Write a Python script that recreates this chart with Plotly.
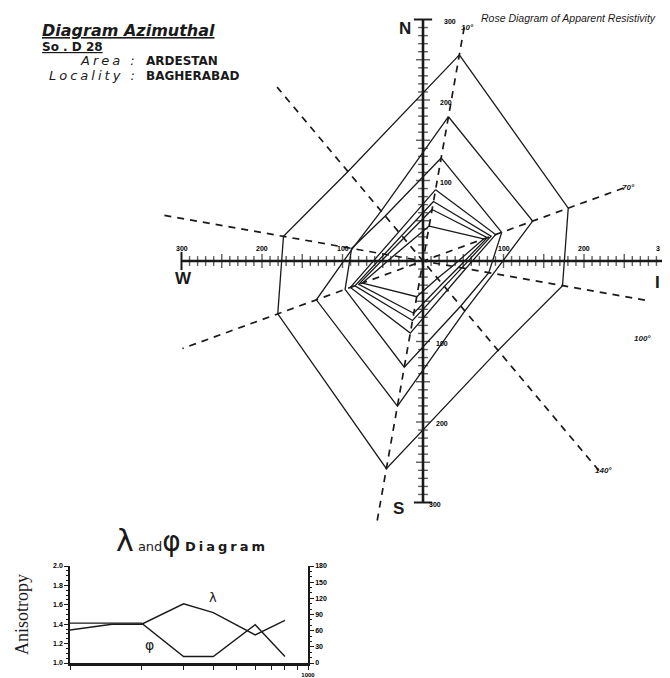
import numpy as np
import plotly.graph_objects as go

# ---------------- Rose diagram data (apparent resistivity, ohm.m) ----------------
azimuths = [10, 70, 100, 140, 190, 250, 280, 320]          # degrees from North, clockwise
ring_1 = [260, 192, 176, 145, 262, 192, 176, 145]
ring_2 = [182, 145, 89, 81, 183, 141, 89, 81]
ring_3 = [130, 104, 83, 73, 134, 103, 90, 73]
ring_4 = [90, 96, 54, 47, 91, 96, 54, 47]
ring_5 = [75, 90, 49, 41, 75, 90, 49, 41]
ring_6 = [65, 85, 45, 37, 66, 85, 45, 37]
ring_7 = [44, 80, 37, 28, 45, 80, 37, 28]
rings = [ring_1, ring_2, ring_3, ring_4, ring_5, ring_6, ring_7]

# measuring directions (dashed) and how far each is drawn on both sides
profile_azimuths = [10, 70, 100, 140]
profile_len_front = [295, 265, 280, 340]
profile_len_back = [330, 318, 329, 282]
profile_labels = ["10°", "70°", "100°", "140°"]

scale_ticks = list(range(10, 300, 10))
scale_labels = [100, 200, 300]

# ---------------- lambda / phi diagram data ----------------
ab2 = [100, 150, 200, 300, 400, 600, 800]
lam = [1.34, 1.40, 1.40, 1.61, 1.52, 1.29, 1.44]
phi = [74, 74, 74, 12, 12, 71, 12]

INK = "#1a1a1a"
OFF = 8                      # default page (body) margin of the html page
W, H = 670 - OFF, 678 - OFF  # figure size so that it exactly fills the window


def polar_xy(r, az):
    r = np.asarray(r, float)
    a = np.deg2rad(np.asarray(az, float))
    return r * np.sin(a), r * np.cos(a)


def px_x(px):
    return (px - OFF) / W


def px_y(py):
    return 1 - (py - OFF) / H


fig = go.Figure()

# dashed measuring directions
for az, lf, lb in zip(profile_azimuths, profile_len_front, profile_len_back):
    x, y = polar_xy([lf, 0, lb], [az, az, az + 180])
    fig.add_trace(go.Scatter(x=x, y=y, mode="lines", xaxis="x", yaxis="y",
                             line=dict(color=INK, width=1.7, dash="7px,6px"),
                             hoverinfo="skip", showlegend=False))

# resistivity polygons
for i, ring in enumerate(rings):
    x, y = polar_xy(ring + ring[:1], azimuths + azimuths[:1])
    fig.add_trace(go.Scatter(x=x, y=y, mode="lines", xaxis="x", yaxis="y",
                             line=dict(color=INK, width=1.3),
                             name=f"ring {i+1}", showlegend=False))

# N-S and E-W scale axes
for a1, a2 in [(0, 180), (90, 270)]:
    x, y = polar_xy([300, 0, 300], [a1, a1, a2])
    fig.add_trace(go.Scatter(x=x, y=y, mode="lines", xaxis="x", yaxis="y",
                             line=dict(color=INK, width=2.6), hoverinfo="skip", showlegend=False))

t = np.array(scale_ticks, float)
tsize = np.where(t % 50 == 0, 10, 7)
for az, sym in [(0, "line-ew"), (180, "line-ew"), (90, "line-ns"), (270, "line-ns")]:
    x, y = polar_xy(t, np.full(len(t), az))
    fig.add_trace(go.Scatter(x=x, y=y, mode="markers", xaxis="x", yaxis="y",
                             marker=dict(symbol=sym, size=tsize, line=dict(color=INK, width=1.4)),
                             hoverinfo="skip", showlegend=False))
    x, y = polar_xy([300], [az])
    fig.add_trace(go.Scatter(x=x, y=y, mode="markers", xaxis="x", yaxis="y",
                             marker=dict(symbol=sym, size=13, line=dict(color=INK, width=2)),
                             hoverinfo="skip", showlegend=False))

# ---------------- lambda / phi traces ----------------
fig.add_trace(go.Scatter(x=ab2, y=lam, mode="lines", xaxis="x2", yaxis="y2",
                         line=dict(color=INK, width=1.4), name="λ", showlegend=False))
fig.add_trace(go.Scatter(x=ab2, y=phi, mode="lines", xaxis="x2", yaxis="y3",
                         line=dict(color=INK, width=1.4), name="φ", showlegend=False))

# ---------------- annotations ----------------
ann = []
hdr = "DejaVu Sans"
for txt, px, py, size, anchor in [
    ("<b><i><u>Diagram Azimuthal</u></i></b>", 40, 31, 16, "left"),
    ("<b><u>So . D 28</u></b>", 40, 47, 12, "left"),
    ('<i><span style="letter-spacing:3px">Area :</span></i>', 140, 61, 13, "right"),
    ('<i><span style="letter-spacing:3px">Locality :</span></i>', 140, 76, 13, "right"),
    ("<b>ARDESTAN</b>", 144, 61, 12, "left"),
    ("<b>BAGHERABAD</b>", 144, 76, 12, "left"),
]:
    ann.append(dict(text=txt, x=px_x(px), y=px_y(py), xref="paper", yref="paper", xanchor=anchor,
                    yanchor="middle", showarrow=False, font=dict(family=hdr, size=size, color=INK)))

ann.append(dict(text="<i>Rose Diagram of Apparent Resistivity</i>", x=px_x(479), y=px_y(18),
                xref="paper", yref="paper", xanchor="left", yanchor="middle", showarrow=False,
                font=dict(family="Liberation Sans", size=10.5, color=INK)))

# compass letters (data coords of main rose)
for txt, x0, y0 in [("N", -22, 289), ("S", -31, -307), ("W", -298, -22), ("I", 291, -27)]:
    ann.append(dict(text=f"<b>{txt}</b>", x=x0, y=y0, xref="x", yref="y", showarrow=False,
                    font=dict(family="Liberation Sans", size=17, color=INK)))

small = dict(family="Liberation Sans", size=7, color="#000000")
# scale labels on E-W axis
for v in scale_labels:
    for sgn in (-1, 1):
        right_end = (sgn == 1 and v == 300)
        ann.append(dict(text=f"<b>{'3' if right_end else v}</b>", x=sgn * v - (8 if right_end else 0),
                        y=16, xref="x", yref="y", showarrow=False, font=small))
# scale labels on N-S axis
for v in scale_labels:
    ann.append(dict(text=f"<b>{v}</b>", x=28 if v < 300 else 34, y=v - 3, xref="x", yref="y",
                    showarrow=False, font=small))
    ann.append(dict(text=f"<b>{v}</b>", x=24 if v < 300 else 15, y=-v - 2, xref="x", yref="y",
                    showarrow=False, font=small))

# direction labels
for txt, x0, y0 in zip(profile_labels, [55, 255, 273, 224], [290, 91, -96, -260]):
    ann.append(dict(text=f"<b><i>{txt}</i></b>", x=x0, y=y0, xref="x", yref="y", showarrow=False,
                    font=dict(family="Liberation Sans", size=8, color=INK)))

# lambda/phi diagram title and labels
ann.append(dict(text='<span style="font-size:30px">λ</span> and<span style="font-size:28px">φ</span> '
                     '<b><span style="letter-spacing:3px">Diagram</span></b>',
                x=px_x(192), y=px_y(540), xref="paper", yref="paper", xanchor="center",
                yanchor="middle", showarrow=False,
                font=dict(family="DejaVu Sans", size=13, color=INK)))
ann.append(dict(text="Anisotropy", x=px_x(22), y=px_y(615), xref="paper", yref="paper",
                xanchor="center", yanchor="middle", showarrow=False,
                textangle=-90, font=dict(family="Liberation Serif", size=18, color=INK)))
ann.append(dict(text="λ", x=np.log10(400), y=1.68, xref="x2", yref="y2", showarrow=False,
                font=dict(family="DejaVu Sans", size=13, color=INK)))
ann.append(dict(text="φ", x=np.log10(215), y=1.19, xref="x2", yref="y2", showarrow=False,
                font=dict(family="DejaVu Sans", size=14, color=INK)))

tickfont = dict(family="Liberation Sans", size=7, color="#000000", weight="bold")

fig.update_layout(
    width=W, height=H,
    margin=dict(l=0, r=0, t=0, b=0, autoexpand=False),
    paper_bgcolor="white", plot_bgcolor="rgba(0,0,0,0)",
    showlegend=False,
    annotations=ann,
    xaxis=dict(domain=[px_x(150), 1.0], range=[(150 - 423) / 0.805, (670 - 423) / 0.805],
               visible=False, fixedrange=True),
    yaxis=dict(domain=[px_y(542), 1.0], range=[(261 - 542) / 0.805, (261 - OFF) / 0.805],
               visible=False, fixedrange=True),
    xaxis2=dict(domain=[px_x(70), px_x(308)], type="log", range=[2, 3], anchor="y2",
                showline=True, linecolor=INK, linewidth=2.5, showgrid=False, zeroline=False,
                ticks="outside", ticklen=4, tickcolor=INK, tickwidth=1.2,
                tickvals=[100, 200, 300, 400, 500, 600, 700, 800, 900, 1000],
                ticktext=[""] * 9 + ["1000"],
                tickfont=dict(family="Liberation Sans", size=6, color="#000000", weight="bold")),
    yaxis2=dict(domain=[px_y(663), px_y(566)], range=[1.0, 2.0], anchor="x2",
                showline=True, linecolor=INK, linewidth=1.6, showgrid=False, zeroline=False,
                ticks="outside", ticklen=4, tickcolor=INK, tickwidth=1.3,
                tickvals=[1.0, 1.2, 1.4, 1.6, 1.8, 2.0], tickformat=".1f", tickfont=tickfont,
                minor=dict(ticks="outside", ticklen=2, dtick=0.05, tickcolor=INK, showgrid=False)),
    yaxis3=dict(overlaying="y2", side="right", anchor="x2", range=[0, 180],
                showline=True, linecolor=INK, linewidth=1.6, showgrid=False, zeroline=False,
                ticks="outside", ticklen=4, tickcolor=INK, tickwidth=1.3,
                tickvals=[0, 30, 60, 90, 120, 150, 180], ticksuffix="°", tickfont=tickfont,
                minor=dict(ticks="outside", ticklen=2, dtick=10, tickcolor=INK, showgrid=False)),
)

fig.write_html("out.html")
